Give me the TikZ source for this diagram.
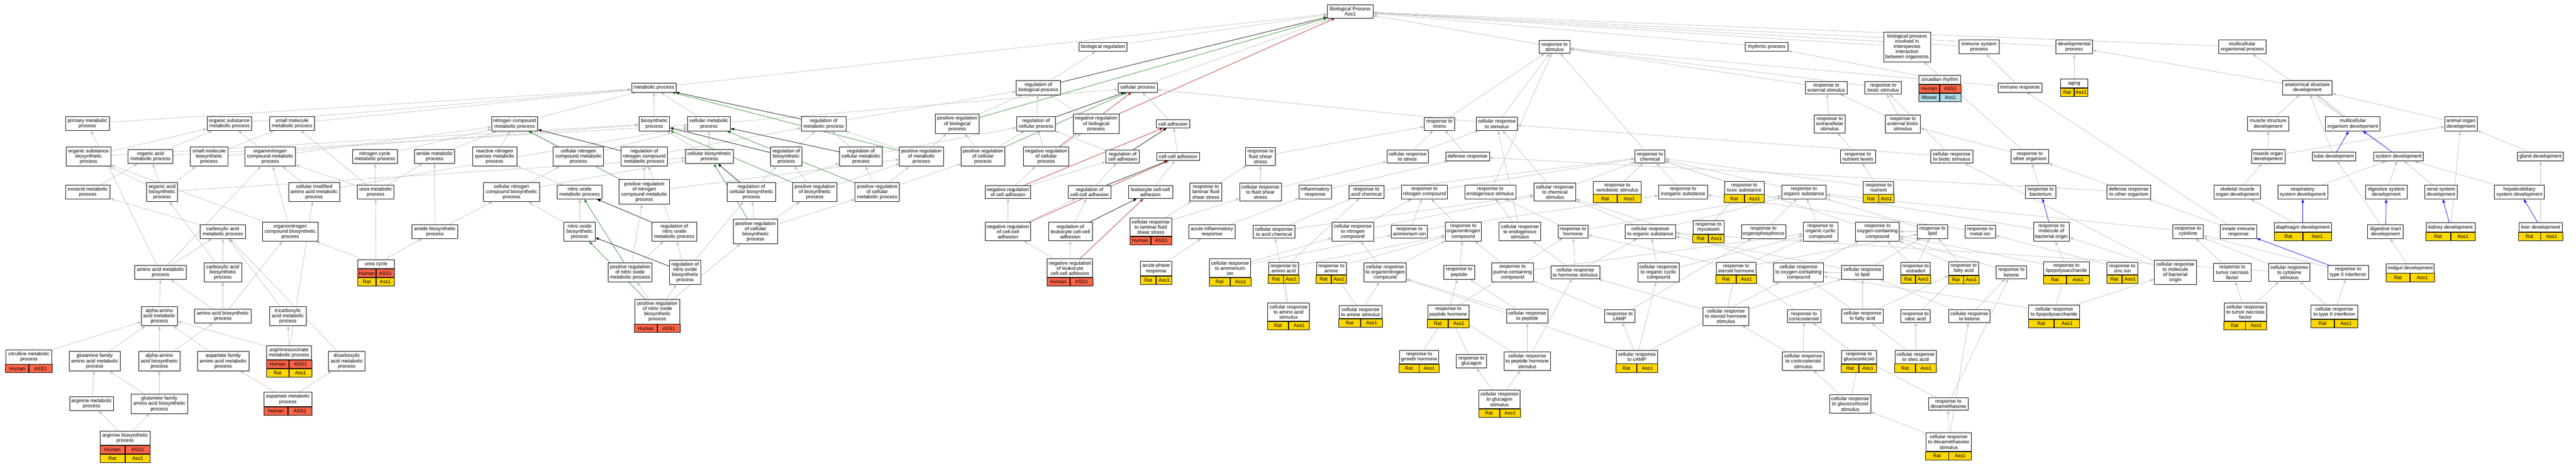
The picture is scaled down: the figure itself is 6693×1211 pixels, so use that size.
\documentclass[tikz,border=0pt]{standalone}
\usepackage{fontspec}
\setmainfont{Liberation Sans}
\usetikzlibrary{arrows.meta}

\definecolor{edgegray}{RGB}{190,190,190}
\definecolor{posgreen}{RGB}{34,139,34}
\definecolor{negred}{RGB}{178,34,34}
\definecolor{partblue}{RGB}{0,0,255}
\definecolor{humred}{RGB}{255,99,71}
\definecolor{ratgold}{RGB}{255,215,0}
\definecolor{mouseblue}{RGB}{173,216,230}

\pgfdeclarelayer{bg}
\pgfsetlayers{bg,main}

\newcommand{\gofont}{\fontsize{13}{13.6}\selectfont}
% one row of a gene table: at, name, colour, species, gene, half width
\newcommand{\generow}[6]{%
  \node[cell, fill=#3, minimum width=#6pt, anchor=north east] (#2a) at #1 {#4};
  \node[cell, fill=#3, minimum width=#6pt, anchor=north west] (#2b) at #1 {#5};}

\tikzset{
  term/.style={draw, line width=1.1pt, fill=white, align=center, inner xsep=2pt, inner ysep=5.5pt, font=\gofont},
  cell/.style={draw, line width=1.1pt, inner sep=0pt, minimum height=21.5pt, font=\gofont},
  isa/.style={draw=edgegray, line width=1pt, -{Triangle[length=9pt,width=6.5pt]}},
  reg/.style={isa, draw=black},
  posreg/.style={isa, draw=posgreen},
  negreg/.style={isa, draw=negred},
  partof/.style={isa, draw=partblue}
}

\begin{document}
\begin{tikzpicture}[x=1pt, y=-1pt]
  \useasboundingbox (0,0) rectangle (6693,1211);

  % root
  \node[term, minimum width=119pt] (root) at (3508,30) {Biological Process\\Ass1};

  % metabolism
  \node[term, minimum width=114pt] (primMet) at (227,321) {primary metabolic\\process};
  \node[term, minimum width=116pt] (orgSubMet) at (596,321) {organic substance\\metabolic process};
  \node[term, minimum width=116pt] (smallMolMet) at (759,321) {small molecule\\metabolic process};
  \node[term, minimum width=117pt] (orgSubBio) at (230,407) {organic substance\\biosynthetic\\process};
  \node[term, minimum width=116pt] (orgAcidMet) at (391,407) {organic acid\\metabolic process};
  \node[term, minimum width=98pt] (smallMolBio) at (543,407) {small molecule\\biosynthetic\\process};
  \node[term, minimum width=131pt] (orgNitMet) at (702,407) {organonitrogen\\compound metabolic\\process};
  \node[term, minimum width=116pt] (nitCycMet) at (974,407) {nitrogen cycle\\metabolic process};
  \node[term, minimum width=105pt] (amideMet) at (1129,407) {amide metabolic\\process};
  \node[term, minimum width=115pt] (oxoMet) at (228,499) {oxoacid metabolic\\process};
  \node[term, minimum width=80pt] (orgAcidBio) at (421,499) {organic acid\\biosynthetic\\process};
  \node[term, minimum width=133pt] (cellModAA) at (816,499) {cellular modified\\amino acid metabolic\\process};
  \node[term, minimum width=95pt] (ureaMet) at (976,499) {urea metabolic\\process};
  \node[term, minimum width=117pt] (carbMet) at (579,602) {carboxylic acid\\metabolic process};
  \node[term, minimum width=145pt] (orgNitBio) at (754,602) {organonitrogen\\compound biosynthetic\\process};
  \node[term, minimum width=119pt] (amideBio) at (1130,602) {amide biosynthetic\\process};
  \node[term, minimum width=94pt] (ureaCyc) at (977,687) {urea cycle};
  \generow{(ureaCyc.south)}{ureaCycH}{humred}{Human}{ASS1}{47}
  \generow{(ureaCycHa.south east)}{ureaCycR}{ratgold}{Rat}{Ass1}{47}
  \node[term, minimum width=134pt] (aaMet) at (417,708) {amino acid metabolic\\process};
  \node[term, minimum width=98pt] (carbBio) at (579,708) {carboxylic acid\\biosynthetic\\process};
  \node[term, minimum width=94pt] (aaAlphaMet) at (414,822) {alpha-amino\\acid metabolic\\process};
  \node[term, minimum width=147pt] (aaBio) at (579,822) {amino acid biosynthetic\\process};
  \node[term, minimum width=95pt] (tricMet) at (748,822) {tricarboxylic\\acid metabolic\\process};
  \node[term, minimum width=120pt] (citMet) at (75,928) {citrulline metabolic\\process};
  \generow{(citMet.south)}{citMetH}{humred}{Human}{ASS1}{60}
  \node[term, minimum width=133pt] (glnFamMet) at (246,939) {glutamine family\\amino acid metabolic\\process};
  \node[term, minimum width=107pt] (aaAlphaBio) at (414,939) {alpha-amino\\acid biosynthetic\\process};
  \node[term, minimum width=134pt] (aspFamMet) at (580,939) {aspartate family\\amino acid metabolic\\process};
  \node[term, minimum width=117pt] (argsucMet) at (751,917) {argininosuccinate\\metabolic process};
  \generow{(argsucMet.south)}{argsucMetH}{humred}{Human}{ASS1}{58.5}
  \generow{(argsucMetHa.south east)}{argsucMetR}{ratgold}{Rat}{Ass1}{58.5}
  \node[term, minimum width=95pt] (dicMet) at (901,939) {dicarboxylic\\acid metabolic\\process};
  \node[term, minimum width=114pt] (argMet) at (238,1049) {arginine metabolic\\process};
  \node[term, minimum width=147pt] (glnFamBio) at (414,1050) {glutamine family\\amino acid biosynthetic\\process};
  \node[term, minimum width=124pt] (aspMet) at (748,1038) {aspartate metabolic\\process};
  \generow{(aspMet.south)}{aspMetH}{humred}{Human}{ASS1}{62}
  \node[term, minimum width=129pt] (argBio) at (325,1139) {arginine biosynthetic\\process};
  \generow{(argBio.south)}{argBioH}{humred}{Human}{ASS1}{64.5}
  \generow{(argBioHa.south east)}{argBioR}{ratgold}{Rat}{Ass1}{64.5}

  % metabolic regulation
  \node[term, minimum width=116pt] (metProc) at (1699,228) {metabolic process};
  \node[term, minimum width=120pt] (nitCompMet) at (1337,322) {nitrogen compound\\metabolic process};
  \node[term, minimum width=80pt] (bioProc) at (1700,322) {biosynthetic\\process};
  \node[term, minimum width=111pt] (cellMet) at (1842,322) {cellular metabolic\\process};
  \node[term, minimum width=117pt] (regMet) at (2140,322) {regulation of\\metabolic process};
  \node[term, minimum width=115pt] (reacNitMet) at (1285,407) {reactive nitrogen\\species metabolic\\process};
  \node[term, minimum width=131pt] (cellNitMet) at (1503,407) {cellular nitrogen\\compound metabolic\\process};
  \node[term, minimum width=121pt] (regNitMet) at (1674,407) {regulation of\\nitrogen compound\\metabolic process};
  \node[term, minimum width=125pt] (cellBio) at (1843,407) {cellular biosynthetic\\process};
  \node[term, minimum width=82pt] (regBio) at (2043,407) {regulation of\\biosynthetic\\process};
  \node[term, minimum width=111pt] (regCellMet) at (2237,407) {regulation of\\cellular metabolic\\process};
  \node[term, minimum width=145pt] (cellNitBio) at (1329,499) {cellular nitrogen\\compound biosynthetic\\process};
  \node[term, minimum width=116pt] (noMet) at (1506,499) {nitric oxide\\metabolic process};
  \node[term, minimum width=132pt] (posRegNitMet) at (1674,499) {positive regulation\\of nitrogen\\compound metabolic\\process};
  \node[term, minimum width=126pt] (regCellBio) at (1952,499) {regulation of\\cellular biosynthetic\\process};
  \node[term, minimum width=116pt] (posRegBio) at (2117,499) {positive regulation\\of biosynthetic\\process};
  \node[term, minimum width=116pt] (posRegCellMet) at (2279,499) {positive regulation\\of cellular\\metabolic process};
  \node[term, minimum width=81pt] (noBio) at (1506,602) {nitric oxide\\biosynthetic\\process};
  \node[term, minimum width=116pt] (regNoMet) at (1752,602) {regulation of\\nitric oxide\\metabolic process};
  \node[term, minimum width=115pt] (posRegCellBio) at (1963,602) {positive regulation\\of cellular\\biosynthetic\\process};
  \node[term, minimum width=115pt] (posRegNoMet) at (1637,708) {positive regulation\\of nitric oxide\\metabolic process};
  \node[term, minimum width=81pt] (regNoBio) at (1780,708) {regulation of\\nitric oxide\\biosynthetic\\process};
  \node[term, minimum width=117pt] (posRegNoBio) at (1708,810) {positive regulation\\of nitric oxide\\biosynthetic\\process};
  \generow{(posRegNoBio.south)}{posRegNoBioH}{humred}{Human}{ASS1}{58.5}

  % biological regulation and adhesion
  \node[term, minimum width=124pt] (bioReg) at (2866,122) {biological regulation};
  \node[term, minimum width=115pt] (regBioProc) at (2698,228) {regulation of\\biological process};
  \node[term, minimum width=101pt] (cellProc) at (2956,228) {cellular process};
  \node[term, minimum width=115pt] (posRegBioProc) at (2487,322) {positive regulation\\of biological\\process};
  \node[term, minimum width=101pt] (regCellProc) at (2692,322) {regulation of\\cellular process};
  \node[term, minimum width=119pt] (negRegBioProc) at (2848,322) {negative regulation\\of biological\\process};
  \node[term, minimum width=86pt] (cellAdh) at (3048,322) {cell adhesion};
  \node[term, minimum width=114pt] (posRegMet) at (2394,407) {positive regulation\\of metabolic\\process};
  \node[term, minimum width=114pt] (posRegCellProc) at (2554,407) {positive regulation\\of cellular\\process};
  \node[term, minimum width=118pt] (negRegCellProc) at (2718,407) {negative regulation\\of cellular\\process};
  \node[term, minimum width=87pt] (regCellAdh) at (2917,407) {regulation of\\cell adhesion};
  \node[term, minimum width=111pt] (ccAdh) at (3061,407) {cell-cell adhesion};
  \node[term, minimum width=78pt] (respFluid) at (3275,407) {response to\\fluid shear\\stress};
  \node[term, minimum width=118pt] (negRegCellAdh) at (2619,499) {negative regulation\\of cell adhesion};
  \node[term, minimum width=110pt] (regCcAdh) at (2831,499) {regulation of\\cell-cell adhesion};
  \node[term, minimum width=115pt] (leukAdh) at (2989,499) {leukocyte cell-cell\\adhesion};
  \node[term, minimum width=83pt] (respLamFluid) at (3133,499) {response to\\laminar fluid\\shear stress};
  \node[term, minimum width=108pt] (cellRespFluid) at (3275,499) {cellular response\\to fluid shear\\stress};
  \node[term, minimum width=118pt] (negRegCcAdh) at (2619,602) {negative regulation\\of cell-cell\\adhesion};
  \node[term, minimum width=114pt] (regLeukAdh) at (2781,602) {regulation of\\leukocyte cell-cell\\adhesion};
  \node[term, minimum width=108pt] (cellRespLam) at (2990,590) {cellular response\\to laminar fluid\\shear stress};
  \generow{(cellRespLam.south)}{cellRespLamH}{humred}{Human}{ASS1}{54}
  \node[term, minimum width=121pt] (acuteInfl) at (3149,602) {acute inflammatory\\response};
  \node[term, minimum width=108pt] (cellRespAcid) at (3310,602) {cellular response\\to acid chemical};
  \node[term, minimum width=118pt] (negRegLeukAdh) at (2780,697) {negative regulation\\of leukocyte\\cell-cell adhesion};
  \generow{(negRegLeukAdh.south)}{negRegLeukAdhH}{humred}{Human}{ASS1}{59}
  \node[term, minimum width=81pt] (acutePhase) at (3004,698) {acute-phase\\response};
  \generow{(acutePhase.south)}{acutePhaseR}{ratgold}{Rat}{Ass1}{40.5}
  \node[term, minimum width=107pt] (cellRespAmmon) at (3196,697) {cellular response\\to ammonium\\ion};
  \generow{(cellRespAmmon.south)}{cellRespAmmonR}{ratgold}{Rat}{Ass1}{53.5}
  \node[term, minimum width=78pt] (respAA) at (3335,698) {response to\\amino acid};
  \generow{(respAA.south)}{respAAR}{ratgold}{Rat}{Ass1}{39}
  \node[term, minimum width=108pt] (cellRespAA) at (3348,811) {cellular response\\to amino acid\\stimulus};
  \generow{(cellRespAA.south)}{cellRespAAR}{ratgold}{Rat}{Ass1}{54}

  % response to stimulus
  \node[term, minimum width=80pt] (respStim) at (4039,122) {response to\\stimulus};
  \node[term, minimum width=78pt] (respStress) at (3740,322) {response to\\stress};
  \node[term, minimum width=107pt] (cellRespStim) at (3889,322) {cellular response\\to stimulus};
  \node[term, minimum width=107pt] (cellRespStress) at (3657,407) {cellular response\\to stress};
  \node[term, minimum width=114pt] (defResp) at (3813,407) {defense response};
  \node[term, minimum width=78pt] (respChem) at (4287,407) {response to\\chemical};
  \node[term, minimum width=84pt] (inflResp) at (3417,499) {inflammatory\\response};
  \node[term, minimum width=91pt] (respAcid) at (3550,499) {response to\\acid chemical};
  \node[term, minimum width=120pt] (respNitComp) at (3701,499) {response to\\nitrogen compound};
  \node[term, minimum width=133pt] (respEndo) at (3872,499) {response to\\endogenous stimulus};
  \node[term, minimum width=108pt] (cellRespChem) at (4040,499) {cellular response\\to chemical\\stimulus};
  \node[term, minimum width=124pt] (respXeno) at (4202,488) {response to\\xenobiotic stimulus};
  \generow{(respXeno.south)}{respXenoR}{ratgold}{Rat}{Ass1}{62}
  \node[term, minimum width=127pt] (respInorg) at (4373,499) {response to\\inorganic substance};
  \node[term, minimum width=103pt] (respToxic) at (4532,488) {response to\\toxic substance};
  \generow{(respToxic.south)}{respToxicR}{ratgold}{Rat}{Ass1}{51.5}
  \node[term, minimum width=108pt] (cellRespNit) at (3515,602) {cellular response\\to nitrogen\\compound};
  \node[term, minimum width=94pt] (respAmmon) at (3662,602) {response to\\ammonium ion};
  \node[term, minimum width=94pt] (respOrgNit) at (3802,602) {response to\\organonitrogen\\compound};
  \node[term, minimum width=108pt] (cellRespEndo) at (3949,602) {cellular response\\to endogenous\\stimulus};
  \node[term, minimum width=78pt] (respHorm) at (4087,602) {response to\\hormone};
  \node[term, minimum width=131pt] (cellRespOrgSub) at (4288,602) {cellular response\\to organic substance};
  \node[term, minimum width=80pt] (respMyco) at (4439,591) {response to\\mycotoxin};
  \generow{(respMyco.south)}{respMycoR}{ratgold}{Rat}{Ass1}{40}
  \node[term, minimum width=78pt] (respAmine) at (3459,698) {response to\\amine};
  \generow{(respAmine.south)}{respAmineR}{ratgold}{Rat}{Ass1}{39}
  \node[term, minimum width=110pt] (cellRespOrgNit) at (3599,708) {cellular response\\to organonitrogen\\compound};
  \node[term, minimum width=80pt] (respPeptide) at (3791,708) {response to\\peptide};
  \node[term, minimum width=108pt] (respPurine) at (3930,708) {response to\\purine-containing\\compound};
  \node[term, minimum width=127pt] (cellRespHorm) at (4093,708) {cellular response\\to hormone stimulus};
  \node[term, minimum width=107pt] (cellRespOrgCyc) at (4309,708) {cellular response\\to organic cyclic\\compound};
  \node[term, minimum width=104pt] (respSteroid) at (4511,698) {response to\\steroid hormone};
  \generow{(respSteroid.south)}{respSteroidR}{ratgold}{Rat}{Ass1}{52}
  \node[term, minimum width=112pt] (cellRespAmine) at (3535,811) {cellular response\\to amine stimulus};
  \generow{(cellRespAmine.south)}{cellRespAmineR}{ratgold}{Rat}{Ass1}{56}
  \node[term, minimum width=107pt] (respPepHorm) at (3763,811) {response to\\peptide hormone};
  \generow{(respPepHorm.south)}{respPepHormR}{ratgold}{Rat}{Ass1}{53.5}
  \node[term, minimum width=107pt] (cellRespPeptide) at (3968,822) {cellular response\\to peptide};
  \node[term, minimum width=79pt] (respCAMP) at (4208,822) {response to\\cAMP};
  \node[term, minimum width=119pt] (cellRespSteroid) at (4484,822) {cellular response\\to steroid hormone\\stimulus};
  \node[term, minimum width=103pt] (respGH) at (3687,928) {response to\\growth hormone};
  \generow{(respGH.south)}{respGHR}{ratgold}{Rat}{Ass1}{51.5}
  \node[term, minimum width=79pt] (respGlucagon) at (3823,939) {response to\\glucagon};
  \node[term, minimum width=121pt] (cellRespPepHorm) at (3968,939) {cellular response\\to peptide hormone\\stimulus};
  \node[term, minimum width=107pt] (cellRespCAMP) at (4253,928) {cellular response\\to cAMP};
  \generow{(cellRespCAMP.south)}{cellRespCAMPR}{ratgold}{Rat}{Ass1}{53.5}
  \node[term, minimum width=107pt] (cellRespGlucagon) at (3896,1038) {cellular response\\to glucagon\\stimulus};
  \generow{(cellRespGlucagon.south)}{cellRespGlucagonR}{ratgold}{Rat}{Ass1}{53.5}

  % other top level processes and responses
  \node[term, minimum width=111pt] (rhythm) at (4590,122) {rhythmic process};
  \node[term, minimum width=122pt] (interspecies) at (4955,122) {biological process\\involved in\\interspecies\\interaction\\between organisms};
  \node[term, minimum width=104pt] (immSys) at (5142,122) {immune system\\process};
  \node[term, minimum width=95pt] (devProc) at (5389,122) {developmental\\process};
  \node[term, minimum width=109pt] (respExt) at (4745,228) {response to\\external stimulus};
  \node[term, minimum width=95pt] (respBiotic) at (4893,228) {response to\\biotic stimulus};
  \node[term, minimum width=108pt] (circadian) at (5040,207) {circadian rhythm};
  \generow{(circadian.south)}{circadianH}{humred}{Human}{ASS1}{54}
  \generow{(circadianHa.south east)}{circadianM}{mouseblue}{Mouse}{Ass1}{54}
  \node[term, minimum width=114pt] (immResp) at (5248,228) {immune response};
  \node[term, minimum width=70pt] (aging) at (5389,217) {aging};
  \generow{(aging.south)}{agingR}{ratgold}{Rat}{Ass1}{35}
  \node[term, minimum width=80pt] (respExtracell) at (4754,322) {response to\\extracellular\\stimulus};
  \node[term, minimum width=91pt] (respExtBiotic) at (4944,322) {response to\\external biotic\\stimulus};
  \node[term, minimum width=91pt] (respNutLev) at (4827,407) {response to\\nutrient levels};
  \node[term, minimum width=110pt] (cellRespBiotic) at (5071,407) {cellular response\\to biotic stimulus};
  \node[term, minimum width=97pt] (respOther) at (5274,407) {response to\\other organism};
  \node[term, minimum width=116pt] (respOrgSub) at (4687,499) {response to\\organic substance};
  \node[term, minimum width=79pt] (respNutrient) at (4881,488) {response to\\nutrient};
  \generow{(respNutrient.south)}{respNutrientR}{ratgold}{Rat}{Ass1}{39.5}
  \node[term, minimum width=78pt] (respBact) at (5302,499) {response to\\bacterium};
  \node[term, minimum width=113pt] (defRespOther) at (5531,499) {defense response\\to other organism};
  \node[term, minimum width=115pt] (respOrgPhos) at (4582,602) {response to\\organophosphorus};
  \node[term, minimum width=90pt] (respOrgCyc) at (4730,602) {response to\\organic cyclic\\compound};
  \node[term, minimum width=114pt] (respOxy) at (4878,602) {response to\\oxygen-containing\\compound};
  \node[term, minimum width=79pt] (respLipid) at (5021,602) {response to\\lipid};
  \node[term, minimum width=79pt] (respMetal) at (5145,602) {response to\\metal ion};
  \node[term, minimum width=93pt] (respMolBact) at (5330,602) {response to\\molecule of\\bacterial origin};
  \node[term, minimum width=130pt] (cellRespOxy) at (4673,708) {cellular response\\to oxygen-containing\\compound};
  \node[term, minimum width=108pt] (cellRespLipid) at (4839,708) {cellular response\\to lipid};
  \node[term, minimum width=77pt] (respEstradiol) at (4977,698) {response to\\estradiol};
  \generow{(respEstradiol.south)}{respEstradiolR}{ratgold}{Rat}{Ass1}{38.5}
  \node[term, minimum width=78pt] (respFatty) at (5102,698) {response to\\fatty acid};
  \generow{(respFatty.south)}{respFattyR}{ratgold}{Rat}{Ass1}{39}
  \node[term, minimum width=79pt] (respKetone) at (5226,708) {response to\\ketone};
  \node[term, minimum width=119pt] (respLPS) at (5369,698) {response to\\lipopolysaccharide};
  \generow{(respLPS.south)}{respLPSR}{ratgold}{Rat}{Ass1}{59.5}
  \node[term, minimum width=80pt] (respZinc) at (5514,698) {response to\\zinc ion};
  \generow{(respZinc.south)}{respZincR}{ratgold}{Rat}{Ass1}{40}
  \node[term, minimum width=87pt] (respCortico) at (4687,822) {response to\\corticosteroid};
  \node[term, minimum width=108pt] (cellRespFatty) at (4839,822) {cellular response\\to fatty acid};
  \node[term, minimum width=77pt] (respOleic) at (4977,822) {response to\\oleic acid};
  \node[term, minimum width=107pt] (cellRespKetone) at (5117,822) {cellular response\\to ketone};
  \node[term, minimum width=132pt] (cellRespLPS) at (5337,811) {cellular response\\to lipopolysaccharide};
  \generow{(cellRespLPS.south)}{cellRespLPSR}{ratgold}{Rat}{Ass1}{66}
  \node[term, minimum width=108pt] (cellRespCortico) at (4685,939) {cellular response\\to corticosteroid\\stimulus};
  \node[term, minimum width=91pt] (respGluco) at (4830,928) {response to\\glucocorticoid};
  \generow{(respGluco.south)}{respGlucoR}{ratgold}{Rat}{Ass1}{45.5}
  \node[term, minimum width=107pt] (cellRespOleic) at (4977,928) {cellular response\\to oleic acid};
  \generow{(cellRespOleic.south)}{cellRespOleicR}{ratgold}{Rat}{Ass1}{53.5}
  \node[term, minimum width=107pt] (cellRespGluco) at (4807,1050) {cellular response\\to glucocorticoid\\stimulus};
  \node[term, minimum width=103pt] (respDexa) at (5062,1050) {response to\\dexamethasone};
  \node[term, minimum width=118pt] (cellRespDexa) at (5063,1149) {cellular response\\to dexamethasone\\stimulus};
  \generow{(cellRespDexa.south)}{cellRespDexaR}{ratgold}{Rat}{Ass1}{59}

  % development and cytokines
  \node[term, minimum width=122pt] (multiOrgProc) at (5826,122) {multicellular\\organismal process};
  \node[term, minimum width=128pt] (anatDev) at (5995,228) {anatomical structure\\development};
  \node[term, minimum width=107pt] (muscStructDev) at (5893,322) {muscle structure\\development};
  \node[term, minimum width=142pt] (multiOrgDev) at (6113,322) {multicellular\\organism development};
  \node[term, minimum width=84pt] (animOrgDev) at (6394,322) {animal organ\\development};
  \node[term, minimum width=87pt] (muscOrgDev) at (5893,407) {muscle organ\\development};
  \node[term, minimum width=113pt] (tubeDev) at (6064,407) {tube development};
  \node[term, minimum width=129pt] (sysDev) at (6232,407) {system development};
  \node[term, minimum width=119pt] (glandDev) at (6601,407) {gland development};
  \node[term, minimum width=120pt] (skelMuscDev) at (5813,499) {skeletal muscle\\organ development};
  \node[term, minimum width=130pt] (respSysDev) at (5983,499) {respiratory\\system development};
  \node[term, minimum width=109pt] (digSysDev) at (6200,499) {digestive system\\development};
  \node[term, minimum width=84pt] (renalSysDev) at (6342,499) {renal system\\development};
  \node[term, minimum width=130pt] (hepSysDev) at (6546,499) {hepaticobiliary\\system development};
  \node[term, minimum width=79pt] (respCytokine) at (5685,602) {response to\\cytokine};
  \node[term, minimum width=94pt] (innateImm) at (5816,602) {innate immune\\response};
  \node[term, minimum width=148pt] (diaphDev) at (5983,591) {diaphragm development};
  \generow{(diaphDev.south)}{diaphDevR}{ratgold}{Rat}{Ass1}{74}
  \node[term, minimum width=92pt] (digTractDev) at (6198,602) {digestive tract\\development};
  \node[term, minimum width=127pt] (kidneyDev) at (6367,591) {kidney development};
  \generow{(kidneyDev.south)}{kidneyDevR}{ratgold}{Rat}{Ass1}{63.5}
  \node[term, minimum width=113pt] (liverDev) at (6601,591) {liver development};
  \generow{(liverDev.south)}{liverDevR}{ratgold}{Rat}{Ass1}{56.5}
  \node[term, minimum width=109pt] (cellRespMolBact) at (5652,708) {cellular response\\to molecule\\of bacterial\\origin};
  \node[term, minimum width=97pt] (respTNF) at (5800,708) {response to\\tumor necrosis\\factor};
  \node[term, minimum width=107pt] (cellRespCytokine) at (5948,708) {cellular response\\to cytokine\\stimulus};
  \node[term, minimum width=105pt] (respIFNG) at (6101,708) {response to\\type II interferon};
  \node[term, minimum width=125pt] (midgutDev) at (6262,698) {midgut development};
  \generow{(midgutDev.south)}{midgutDevR}{ratgold}{Rat}{Ass1}{62.5}
  \node[term, minimum width=110pt] (cellRespTNF) at (5834,811) {cellular response\\to tumor necrosis\\factor};
  \generow{(cellRespTNF.south)}{cellRespTNFR}{ratgold}{Rat}{Ass1}{55}
  \node[term, minimum width=121pt] (cellRespIFNG) at (6065,811) {cellular response\\to type II interferon};
  \generow{(cellRespIFNG.south)}{cellRespIFNGR}{ratgold}{Rat}{Ass1}{60.5}

  \begin{pgfonlayer}{bg}
  \fill[white] (0,0) rectangle (6693,1211);
  % metabolism
  \draw[isa] (primMet) -- (metProc);
  \draw[isa] (orgSubMet) -- (metProc);
  \draw[isa] (smallMolMet) -- (metProc);
  \draw[isa] (orgSubBio) -- (orgSubMet);
  \draw[isa] (orgSubBio) -- (bioProc);
  \draw[isa] (orgAcidMet) -- (orgSubMet);
  \draw[isa] (orgAcidMet) -- (cellMet);
  \draw[isa] (smallMolBio) -- (smallMolMet);
  \draw[isa] (smallMolBio) -- (bioProc);
  \draw[isa] (orgNitMet) -- (orgSubMet);
  \draw[isa] (orgNitMet) -- (nitCompMet);
  \draw[isa] (orgAcidBio) -- (orgSubBio);
  \draw[isa] (orgAcidBio) -- (orgAcidMet);
  \draw[isa] (orgAcidBio) -- (smallMolBio);
  \draw[isa] (orgAcidBio) -- (cellBio);
  \draw[isa] (oxoMet) -- (orgAcidMet);
  \draw[isa] (cellModAA) -- (orgNitMet);
  \draw[isa] (cellModAA) -- (cellMet);
  \draw[isa] (ureaMet) -- (smallMolMet);
  \draw[isa] (ureaMet) -- (orgNitMet);
  \draw[isa] (ureaMet) -- (nitCycMet);
  \draw[isa] (ureaMet) -- (amideMet);
  \draw[isa] (nitCycMet) -- (nitCompMet);
  \draw[isa] (amideMet) -- (nitCompMet);
  \draw[isa] (carbMet) -- (oxoMet);
  \draw[isa] (orgNitBio) -- (orgNitMet);
  \draw[isa] (orgNitBio) -- (orgSubBio);
  \draw[isa] (amideBio) -- (amideMet);
  \draw[isa] (amideBio) -- (cellNitBio);
  \draw[isa] (ureaCyc) -- (ureaMet);
  \draw[isa] (ureaCyc) -- (amideBio);
  \draw[isa] (ureaCyc) -- (orgNitBio);
  \draw[isa] (aaMet) -- (primMet);
  \draw[isa] (aaMet) -- (carbMet);
  \draw[isa] (aaMet) -- (orgNitMet);
  \draw[isa] (carbBio) -- (carbMet);
  \draw[isa] (carbBio) -- (orgAcidBio);
  \draw[isa] (aaBio) -- (aaMet);
  \draw[isa] (aaBio) -- (carbBio);
  \draw[isa] (aaBio) -- (orgNitBio);
  \draw[isa] (tricMet) -- (carbMet);
  \draw[isa] (dicMet) -- (carbMet);
  \draw[isa] (aaAlphaMet) -- (aaMet);
  \draw[isa] (aaAlphaBio) -- (aaAlphaMet);
  \draw[isa] (aaAlphaBio) -- (aaBio);
  \draw[isa] (glnFamMet) -- (aaAlphaMet);
  \draw[isa] (aspFamMet) -- (aaAlphaMet);
  \draw[isa] (citMet) -- (aaAlphaMet);
  \draw[isa] (argsucMet) -- (aaAlphaMet);
  \draw[isa] (argsucMet) -- (tricMet);
  \draw[isa] (argsucMet) -- (cellModAA);
  \draw[isa] (argMet) -- (glnFamMet);
  \draw[isa] (glnFamBio) -- (glnFamMet);
  \draw[isa] (glnFamBio) -- (aaAlphaBio);
  \draw[isa] (aspMet) -- (aspFamMet);
  \draw[isa] (aspMet) -- (dicMet);
  \draw[isa] (argBio) -- (argMet);
  \draw[isa] (argBio) -- (glnFamBio);
  % metabolic regulation
  \draw[isa] (metProc) -- (root);
  \draw[isa] (nitCompMet) -- (metProc);
  \draw[isa] (bioProc) -- (metProc);
  \draw[isa] (cellMet) -- (metProc);
  \draw[isa] (cellMet) -- (cellProc);
  \draw[reg] (regMet) -- (metProc);
  \draw[isa] (regMet) -- (regBioProc);
  \draw[posreg] (posRegMet) -- (metProc);
  \draw[isa] (posRegMet) -- (posRegBioProc);
  \draw[isa] (posRegMet) -- (regMet);
  \draw[isa] (reacNitMet) -- (nitCompMet);
  \draw[isa] (cellNitMet) -- (nitCompMet);
  \draw[isa] (cellNitMet) -- (cellMet);
  \draw[reg] (regNitMet) -- (nitCompMet);
  \draw[isa] (regNitMet) -- (regMet);
  \draw[isa] (cellBio) -- (bioProc);
  \draw[isa] (cellBio) -- (cellMet);
  \draw[reg] (regBio) -- (bioProc);
  \draw[isa] (regBio) -- (regMet);
  \draw[reg] (regCellMet) -- (cellMet);
  \draw[isa] (regCellMet) -- (regMet);
  \draw[isa] (regCellMet) -- (regCellProc);
  \draw[isa] (cellNitBio) -- (cellNitMet);
  \draw[isa] (cellNitBio) -- (cellBio);
  \draw[isa] (noMet) -- (reacNitMet);
  \draw[isa] (posRegNitMet) -- (regNitMet);
  \draw[posreg] (posRegNitMet) -- (nitCompMet);
  \draw[isa] (posRegNitMet) -- (posRegMet);
  \draw[reg] (regCellBio) -- (cellBio);
  \draw[isa] (regCellBio) -- (regBio);
  \draw[isa] (regCellBio) -- (regCellMet);
  \draw[posreg] (posRegBio) -- (bioProc);
  \draw[isa] (posRegBio) -- (regBio);
  \draw[isa] (posRegBio) -- (posRegMet);
  \draw[posreg] (posRegCellMet) -- (cellMet);
  \draw[isa] (posRegCellMet) -- (regCellMet);
  \draw[isa] (posRegCellMet) -- (posRegMet);
  \draw[isa] (posRegCellMet) -- (posRegCellProc);
  \draw[isa] (noBio) -- (noMet);
  \draw[isa] (noBio) -- (cellNitBio);
  \draw[reg] (regNoMet) -- (noMet);
  \draw[isa] (regNoMet) -- (regNitMet);
  \draw[posreg] (posRegCellBio) -- (cellBio);
  \draw[isa] (posRegCellBio) -- (regCellBio);
  \draw[isa] (posRegCellBio) -- (posRegBio);
  \draw[isa] (posRegCellBio) -- (posRegCellMet);
  \draw[posreg] (posRegNoMet) -- (noMet);
  \draw[isa] (posRegNoMet) -- (posRegNitMet);
  \draw[isa] (posRegNoMet) -- (regNoMet);
  \draw[reg] (regNoBio) -- (noBio);
  \draw[isa] (regNoBio) -- (regNoMet);
  \draw[isa] (regNoBio) -- (regCellBio);
  \draw[posreg] (posRegNoBio) -- (noBio);
  \draw[isa] (posRegNoBio) -- (posRegNoMet);
  \draw[isa] (posRegNoBio) -- (regNoBio);
  \draw[isa] (posRegNoBio) -- (posRegCellBio);
  % biological regulation and adhesion
  \draw[isa] (bioReg) -- (root);
  \draw[isa] (regBioProc) -- (bioReg);
  \draw[reg] (regBioProc) -- (root);
  \draw[isa] (cellProc) -- (root);
  \draw[isa] (posRegBioProc) -- (regBioProc);
  \draw[posreg] (posRegBioProc) -- (root);
  \draw[isa] (regCellProc) -- (regBioProc);
  \draw[reg] (regCellProc) -- (cellProc);
  \draw[isa] (negRegBioProc) -- (regBioProc);
  \draw[negreg] (negRegBioProc) -- (root);
  \draw[isa] (cellAdh) -- (cellProc);
  \draw[isa] (posRegCellProc) -- (posRegBioProc);
  \draw[isa] (posRegCellProc) -- (regCellProc);
  \draw[posreg] (posRegCellProc) -- (cellProc);
  \draw[isa] (negRegCellProc) -- (regCellProc);
  \draw[isa] (negRegCellProc) -- (negRegBioProc);
  \draw[negreg] (negRegCellProc) -- (cellProc);
  \draw[isa] (regCellAdh) -- (regCellProc);
  \draw[reg] (regCellAdh) -- (cellAdh);
  \draw[isa] (ccAdh) -- (cellAdh);
  \draw[isa] (negRegCellAdh) -- (negRegCellProc);
  \draw[isa] (negRegCellAdh) -- (regCellAdh);
  \draw[negreg] (negRegCellAdh) -- (cellAdh);
  \draw[isa] (regCcAdh) -- (regCellAdh);
  \draw[reg] (regCcAdh) -- (ccAdh);
  \draw[isa] (leukAdh) -- (ccAdh);
  \draw[isa] (negRegCcAdh) -- (negRegCellAdh);
  \draw[isa] (negRegCcAdh) -- (regCcAdh);
  \draw[negreg] (negRegCcAdh) -- (ccAdh);
  \draw[isa] (regLeukAdh) -- (regCcAdh);
  \draw[reg] (regLeukAdh) -- (leukAdh);
  \draw[isa] (negRegLeukAdh) -- (negRegCcAdh);
  \draw[isa] (negRegLeukAdh) -- (regLeukAdh);
  \draw[negreg] (negRegLeukAdh) -- (leukAdh);
  \draw[isa] (respFluid) -- (respStress);
  \draw[isa] (respLamFluid) -- (respFluid);
  \draw[isa] (cellRespFluid) -- (respFluid);
  \draw[isa] (cellRespFluid) -- (cellRespStress);
  \draw[isa] (cellRespLam) -- (respLamFluid);
  \draw[isa] (cellRespLam) -- (cellRespFluid);
  \draw[isa] (inflResp) -- (defResp);
  \draw[isa] (acuteInfl) -- (inflResp);
  \draw[isa] (acutePhase) -- (acuteInfl);
  \draw[isa] (cellRespAcid) -- (respAcid);
  \draw[isa] (cellRespAcid) -- (cellRespChem);
  \draw[isa] (cellRespAmmon) -- (respAmmon);
  \draw[isa] (cellRespAmmon) -- (cellRespNit);
  \draw[isa] (respAA) -- (respAcid);
  \draw[isa] (respAA) -- (respOrgNit);
  \draw[isa] (cellRespAA) -- (respAA);
  \draw[isa] (cellRespAA) -- (cellRespAcid);
  % response to stimulus
  \draw[isa] (respStim) -- (root);
  \draw[isa] (respStress) -- (respStim);
  \draw[isa] (cellRespStim) -- (respStim);
  \draw[isa] (cellRespStim) -- (cellProc);
  \draw[isa] (respEndo) -- (respStim);
  \draw[isa] (respChem) -- (respStim);
  \draw[isa] (cellRespStress) -- (respStress);
  \draw[isa] (cellRespStress) -- (cellRespStim);
  \draw[isa] (defResp) -- (respStress);
  \draw[isa] (respAcid) -- (respChem);
  \draw[isa] (respNitComp) -- (respChem);
  \draw[isa] (cellRespChem) -- (cellRespStim);
  \draw[isa] (cellRespChem) -- (respChem);
  \draw[isa] (respXeno) -- (respChem);
  \draw[isa] (respInorg) -- (respChem);
  \draw[isa] (respToxic) -- (respChem);
  \draw[isa] (respOrgSub) -- (respChem);
  \draw[isa] (respOxy) -- (respChem);
  \draw[isa] (cellRespNit) -- (respNitComp);
  \draw[isa] (cellRespNit) -- (cellRespChem);
  \draw[isa] (respAmmon) -- (respNitComp);
  \draw[isa] (respAmmon) -- (respInorg);
  \draw[isa] (respOrgNit) -- (respNitComp);
  \draw[isa] (cellRespEndo) -- (respEndo);
  \draw[isa] (cellRespEndo) -- (cellRespStim);
  \draw[isa] (respHorm) -- (respEndo);
  \draw[isa] (respHorm) -- (respOrgSub);
  \draw[isa] (cellRespOrgSub) -- (cellRespChem);
  \draw[isa] (cellRespOrgSub) -- (respOrgSub);
  \draw[isa] (respMyco) -- (respToxic);
  \draw[isa] (respAmine) -- (respOrgNit);
  \draw[isa] (cellRespOrgNit) -- (respOrgNit);
  \draw[isa] (cellRespOrgNit) -- (cellRespNit);
  \draw[isa] (respPeptide) -- (respOrgNit);
  \draw[isa] (respPurine) -- (respOrgNit);
  \draw[isa] (respPurine) -- (respOrgCyc);
  \draw[isa] (cellRespHorm) -- (respHorm);
  \draw[isa] (cellRespHorm) -- (cellRespEndo);
  \draw[isa] (cellRespHorm) -- (cellRespOrgSub);
  \draw[isa] (cellRespOrgCyc) -- (cellRespOrgSub);
  \draw[isa] (cellRespOrgCyc) -- (respOrgCyc);
  \draw[isa] (respSteroid) -- (respHorm);
  \draw[isa] (respSteroid) -- (respLipid);
  \draw[isa] (respSteroid) -- (respOrgCyc);
  \draw[isa] (cellRespAmine) -- (respAmine);
  \draw[isa] (cellRespAmine) -- (cellRespOrgNit);
  \draw[isa] (respPepHorm) -- (respPeptide);
  \draw[isa] (respPepHorm) -- (respHorm);
  \draw[isa] (cellRespPeptide) -- (respPeptide);
  \draw[isa] (cellRespPeptide) -- (cellRespOrgNit);
  \draw[isa] (respCAMP) -- (respPurine);
  \draw[isa] (respCAMP) -- (respOrgPhos);
  \draw[isa] (cellRespSteroid) -- (respSteroid);
  \draw[isa] (cellRespSteroid) -- (cellRespLipid);
  \draw[isa] (cellRespSteroid) -- (cellRespHorm);
  \draw[isa] (respGH) -- (respPepHorm);
  \draw[isa] (respGlucagon) -- (respPepHorm);
  \draw[isa] (cellRespPepHorm) -- (cellRespPeptide);
  \draw[isa] (cellRespPepHorm) -- (cellRespHorm);
  \draw[isa] (cellRespPepHorm) -- (respPepHorm);
  \draw[isa] (cellRespCAMP) -- (respCAMP);
  \draw[isa] (cellRespCAMP) -- (cellRespOrgCyc);
  \draw[isa] (cellRespCAMP) -- (cellRespOrgNit);
  \draw[isa] (cellRespCAMP) -- (cellRespOxy);
  \draw[isa] (cellRespGlucagon) -- (respGlucagon);
  \draw[isa] (cellRespGlucagon) -- (cellRespPepHorm);
  % other top level processes and responses
  \draw[isa] (rhythm) -- (root);
  \draw[isa] (interspecies) -- (root);
  \draw[isa] (immSys) -- (root);
  \draw[isa] (devProc) -- (root);
  \draw[isa] (multiOrgProc) -- (root);
  \draw[isa] (respExt) -- (respStim);
  \draw[isa] (respBiotic) -- (respStim);
  \draw[isa] (circadian) -- (rhythm);
  \draw[isa] (immResp) -- (immSys);
  \draw[isa] (immResp) -- (respStim);
  \draw[isa] (aging) -- (devProc);
  \draw[isa] (respExtracell) -- (respExt);
  \draw[isa] (respExtBiotic) -- (respExt);
  \draw[isa] (respExtBiotic) -- (respBiotic);
  \draw[isa] (respNutLev) -- (respExtracell);
  \draw[isa] (cellRespBiotic) -- (respBiotic);
  \draw[isa] (cellRespBiotic) -- (cellRespStim);
  \draw[isa] (respOther) -- (respExtBiotic);
  \draw[isa] (respOther) -- (interspecies);
  \draw[isa] (respNutrient) -- (respNutLev);
  \draw[isa] (respNutrient) -- (respChem);
  \draw[isa] (respBact) -- (respOther);
  \draw[isa] (defRespOther) -- (respOther);
  \draw[isa] (defRespOther) -- (defResp);
  \draw[partof] (respMolBact) -- (respBact);
  \draw[isa] (respMolBact) -- (respOrgSub);
  \draw[isa] (respOrgPhos) -- (respOrgSub);
  \draw[isa] (respOrgCyc) -- (respOrgSub);
  \draw[isa] (respLipid) -- (respOxy);
  \draw[isa] (respLipid) -- (respOrgSub);
  \draw[isa] (respMetal) -- (respInorg);
  \draw[isa] (cellRespOxy) -- (respOxy);
  \draw[isa] (cellRespOxy) -- (cellRespChem);
  \draw[isa] (cellRespLipid) -- (respLipid);
  \draw[isa] (cellRespLipid) -- (cellRespOxy);
  \draw[isa] (cellRespLipid) -- (cellRespOrgSub);
  \draw[isa] (respEstradiol) -- (respLipid);
  \draw[isa] (respEstradiol) -- (respOxy);
  \draw[isa] (respFatty) -- (respLipid);
  \draw[isa] (respFatty) -- (respOxy);
  \draw[isa] (respKetone) -- (respOxy);
  \draw[isa] (respLPS) -- (respMolBact);
  \draw[isa] (respLPS) -- (respOxy);
  \draw[isa] (respZinc) -- (respMetal);
  \draw[isa] (respCortico) -- (respSteroid);
  \draw[isa] (cellRespFatty) -- (cellRespLipid);
  \draw[isa] (cellRespFatty) -- (respFatty);
  \draw[isa] (cellRespFatty) -- (cellRespOxy);
  \draw[isa] (respOleic) -- (respFatty);
  \draw[isa] (cellRespKetone) -- (respKetone);
  \draw[isa] (cellRespKetone) -- (cellRespLipid);
  \draw[isa] (cellRespLPS) -- (respLPS);
  \draw[isa] (cellRespLPS) -- (cellRespMolBact);
  \draw[isa] (cellRespLPS) -- (cellRespOxy);
  \draw[isa] (cellRespCortico) -- (respCortico);
  \draw[isa] (cellRespCortico) -- (cellRespSteroid);
  \draw[isa] (respGluco) -- (respCortico);
  \draw[isa] (cellRespOleic) -- (respOleic);
  \draw[isa] (cellRespOleic) -- (cellRespFatty);
  \draw[isa] (cellRespGluco) -- (respGluco);
  \draw[isa] (cellRespGluco) -- (cellRespCortico);
  \draw[isa] (respDexa) -- (respGluco);
  \draw[isa] (respDexa) -- (respKetone);
  \draw[isa] (cellRespDexa) -- (respDexa);
  \draw[isa] (cellRespDexa) -- (cellRespGluco);
  \draw[isa] (cellRespDexa) -- (cellRespKetone);
  % development and cytokines
  \draw[isa] (anatDev) -- (devProc);
  \draw[isa] (muscStructDev) -- (anatDev);
  \draw[isa] (multiOrgDev) -- (anatDev);
  \draw[isa] (multiOrgDev) -- (multiOrgProc);
  \draw[isa] (animOrgDev) -- (anatDev);
  \draw[isa] (muscOrgDev) -- (muscStructDev);
  \draw[isa] (muscOrgDev) -- (animOrgDev);
  \draw[isa] (tubeDev) -- (anatDev);
  \draw[partof] (tubeDev) -- (multiOrgDev);
  \draw[partof] (sysDev) -- (multiOrgDev);
  \draw[isa] (sysDev) -- (anatDev);
  \draw[isa] (glandDev) -- (animOrgDev);
  \draw[isa] (skelMuscDev) -- (muscOrgDev);
  \draw[isa] (respSysDev) -- (sysDev);
  \draw[isa] (digSysDev) -- (sysDev);
  \draw[isa] (renalSysDev) -- (sysDev);
  \draw[isa] (hepSysDev) -- (sysDev);
  \draw[isa] (respCytokine) -- (respOrgSub);
  \draw[isa] (innateImm) -- (immResp);
  \draw[isa] (innateImm) -- (defRespOther);
  \draw[partof] (diaphDev) -- (respSysDev);
  \draw[isa] (diaphDev) -- (skelMuscDev);
  \draw[partof] (digTractDev) -- (digSysDev);
  \draw[isa] (digTractDev) -- (tubeDev);
  \draw[partof] (kidneyDev) -- (renalSysDev);
  \draw[isa] (kidneyDev) -- (animOrgDev);
  \draw[partof] (liverDev) -- (hepSysDev);
  \draw[isa] (liverDev) -- (glandDev);
  \draw[isa] (cellRespMolBact) -- (respMolBact);
  \draw[isa] (cellRespMolBact) -- (cellRespBiotic);
  \draw[isa] (respTNF) -- (respCytokine);
  \draw[isa] (cellRespCytokine) -- (respCytokine);
  \draw[isa] (cellRespCytokine) -- (cellRespOrgSub);
  \draw[isa] (respIFNG) -- (respCytokine);
  \draw[partof] (respIFNG) -- (innateImm);
  \draw[isa] (midgutDev) -- (digTractDev);
  \draw[isa] (cellRespTNF) -- (respTNF);
  \draw[isa] (cellRespTNF) -- (cellRespCytokine);
  \draw[isa] (cellRespIFNG) -- (respIFNG);
  \draw[isa] (cellRespIFNG) -- (cellRespCytokine);
  \end{pgfonlayer}
\end{tikzpicture}
\end{document}
